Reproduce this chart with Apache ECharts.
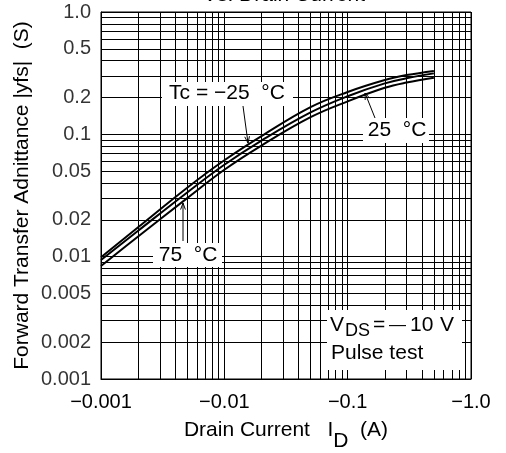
<!DOCTYPE html>
<html>
<head>
<meta charset="utf-8">
<script src="https://cdn.jsdelivr.net/npm/echarts@6/dist/echarts.min.js"></script>
<style>
html,body{margin:0;padding:0;background:#fff;overflow:hidden;}
#chart{width:506px;height:453px;}
</style>
</head>
<body>
<div id="chart"></div>
<script>
// Drain current magnitudes (A); axis shows them as negative values
const current = [0.001, 0.002, 0.005, 0.01, 0.02, 0.05, 0.1, 0.2, 0.3, 0.5];
// |yfs| (S) for each case temperature
const yfsM25 = [0.0099, 0.0174, 0.0366, 0.0614, 0.0968, 0.167, 0.222, 0.278, 0.305, 0.330];
const yfs25  = [0.0094, 0.0163, 0.0335, 0.0564, 0.0889, 0.151, 0.205, 0.261, 0.287, 0.315];
const yfs75  = [0.0084, 0.0146, 0.0301, 0.0514, 0.0810, 0.138, 0.186, 0.240, 0.265, 0.290];

const xTicks = [0.001, 0.01, 0.1, 1];
const xTickLabels = ['\u22120.001', '\u22120.01', '\u22120.1', '\u22121.0'];
const yTicks = [1, 0.5, 0.2, 0.1, 0.05, 0.02, 0.01, 0.005, 0.002, 0.001];
const yTickLabels = ['1.0', '0.5', '0.2', '0.1', '0.05', '0.02', '0.01', '0.005', '0.002', '0.001'];
const decades = [0.001, 0.01, 0.1];
const mults = [1, 2, 3, 4, 5, 6, 7, 8, 9];

const FONT = 'Liberation Sans, Arial, Helvetica, sans-serif';
const AX_MIN = 0.001, AX_MAX = 1;

const gridVals = [];
decades.forEach(d => mults.forEach(m => gridVals.push(+(d * m).toPrecision(3))));
gridVals.push(1);

function xLabel(v) {
  for (let i = 0; i < xTicks.length; i++) {
    if (Math.abs(Math.log10(xTicks[i]) - Math.log10(v)) < 1e-6) return xTickLabels[i];
  }
  return '';
}

const gridLines = [];
gridVals.forEach(v => gridLines.push({ coords: [[v, AX_MIN], [v, AX_MAX]] }));
gridVals.forEach(v => gridLines.push({ coords: [[AX_MIN, v], [AX_MAX, v]] }));

const yLabelPts = yTicks.map((v, i) => ({ value: [AX_MIN, v], label: { formatter: yTickLabels[i] } }));

function pairs(ys) { return current.map((x, i) => [x, ys[i]]); }

const curveStyle = { color: '#000', width: 2 };

const chart = echarts.init(document.getElementById('chart'), null, { renderer: 'canvas' });

function arrow(x1, y1, x2, y2) {
  const ang = Math.atan2(y2 - y1, x2 - x1);
  const L = 7, W = 0.35;
  return [
    { type: 'line', z: 120, shape: { x1, y1, x2, y2 }, style: { stroke: '#000', lineWidth: 1 } },
    { type: 'polyline', z: 120, shape: { points: [
      [x2 - L * Math.cos(ang - W), y2 - L * Math.sin(ang - W)],
      [x2, y2],
      [x2 - L * Math.cos(ang + W), y2 - L * Math.sin(ang + W)]
    ] }, style: { stroke: '#000', lineWidth: 1, fill: null } }
  ];
}
function box(x, y, w, h) {
  return { type: 'rect', z: 100, shape: { x, y, width: w, height: h }, style: { fill: '#fff', stroke: null } };
}
function txt(x, y, t, align, size) {
  return { type: 'text', z: 110, x, y, style: { text: t, fill: '#000', font: (size || 21) + 'px ' + FONT, align: align || 'center', verticalAlign: 'middle' } };
}

const option = {
  animation: false,
  backgroundColor: '#fff',
  grid: {
    left: 101, right: 35, top: 12, bottom: 74,
    containLabel: false, outerBoundsMode: 'none',
    show: true, borderColor: '#000', borderWidth: 1, backgroundColor: 'transparent'
  },
  xAxis: {
    type: 'log', logBase: 10, min: AX_MIN, max: AX_MAX,
    axisLine: { show: true, lineStyle: { color: '#000', width: 1 } },
    axisTick: { show: false },
    splitLine: { show: false },
    axisLabel: { color: '#000', fontSize: 20, fontFamily: FONT, margin: 13, formatter: v => xLabel(v) },
    name: '{a|Drain Current   I}{s|D}{a|  (A)}',
    nameLocation: 'middle', nameGap: 30,
    nameTextStyle: { rich: {
      a: { fontSize: 21, fontFamily: FONT, color: '#000' },
      s: { fontSize: 21, fontFamily: FONT, color: '#000', padding: [22, 0, 0, 0] }
    } }
  },
  yAxis: {
    type: 'log', logBase: 10, min: AX_MIN, max: AX_MAX,
    axisLine: { show: true, lineStyle: { color: '#000', width: 1 } },
    axisTick: { show: false },
    splitLine: { show: false },
    axisLabel: { show: false },
    name: 'Forward Transfer Adnittance |yfs|  (S)',
    nameLocation: 'middle', nameGap: 68, nameRotate: 90,
    nameTextStyle: { fontSize: 21, fontFamily: FONT, color: '#000' }
  },
  series: [
    {
      type: 'lines', coordinateSystem: 'cartesian2d', silent: true, z: 1,
      lineStyle: { color: '#000', width: 1, opacity: 1 },
      data: gridLines
    },
    {
      type: 'scatter', silent: true, symbolSize: 0, z: 1,
      label: { show: true, position: 'left', distance: 10, color: '#000', fontSize: 20, fontFamily: FONT },
      data: yLabelPts
    },
    { type: 'line', name: 'Tc = -25 °C', data: pairs(yfsM25), smooth: 0.4, showSymbol: false, lineStyle: curveStyle, z: 5 },
    { type: 'line', name: '25 °C', data: pairs(yfs25), smooth: 0.4, showSymbol: false, lineStyle: curveStyle, z: 5 },
    { type: 'line', name: '75 °C', data: pairs(yfs75), smooth: 0.4, showSymbol: false, lineStyle: curveStyle, z: 5 }
  ],
  graphic: [
    txt(284, -5, 'Vs. Drain Current'),
    box(162, 82, 131, 24),
    txt(227, 93, 'Tc = \u221225  \u00b0C'),
    ...arrow(243, 106, 248, 143),
    box(363, 118, 66, 25),
    txt(397, 130, '25  \u00b0C'),
    ...arrow(375, 118, 365, 93),
    box(153, 243, 69, 24),
    txt(188, 255, '75  \u00b0C'),
    ...arrow(183, 241, 183, 203),
    box(327, 310, 135, 60),
    txt(330, 325, 'V', 'left'),
    txt(345, 331, 'DS', 'left', 18),
    txt(373, 325, '=', 'left'),
    txt(389, 325, '\u2014', 'left', 17),
    txt(410, 325, '10', 'left'),
    txt(440, 325, 'V', 'left'),
    txt(331, 353, 'Pulse test', 'left')
  ]
};
chart.setOption(option);
</script>
</body>
</html>
